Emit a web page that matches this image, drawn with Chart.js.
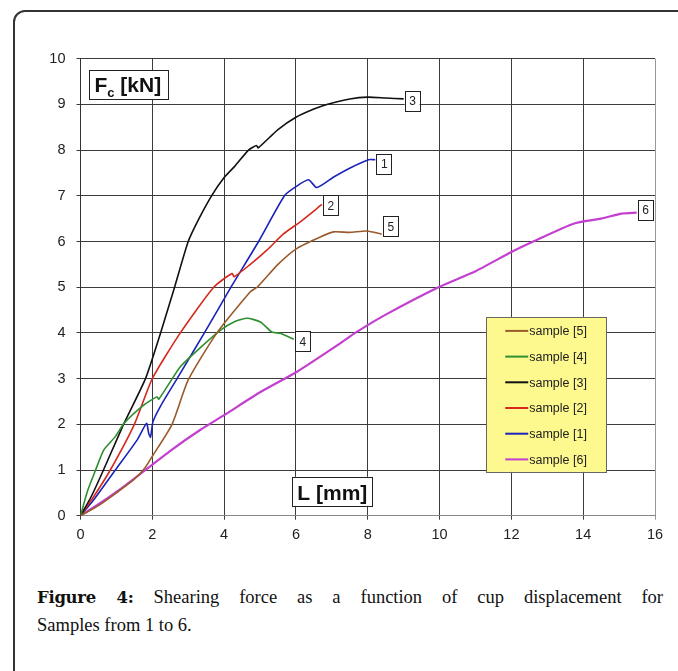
<!DOCTYPE html>
<html>
<head>
<meta charset="utf-8">
<script src="https://cdn.jsdelivr.net/npm/chart.js@4.4.1/dist/chart.umd.min.js"></script>
<style>
  html, body { margin: 0; padding: 0; background: #fff; width: 678px; height: 671px; overflow: hidden; }
  #frame { position: absolute; left: 13px; top: 10px; width: 800px; height: 800px; border: 2px solid #333; border-radius: 12px; }
  #wrap { position: absolute; left: 0; top: 0; width: 678px; height: 560px; }
  .cap { position: absolute; left: 37px; width: 626px; font-family: "Liberation Serif", serif; font-size: 18.5px; color: #111; }
  .cap b { font-family: "DejaVu Serif", serif; font-size: 16.5px; letter-spacing: -0.3px; }
  #cap1 { top: 587px; text-align: justify; text-align-last: justify; }
  #cap2 { top: 615px; }
</style>
</head>
<body>
<div id="frame"></div>
<div id="wrap"><canvas id="forceChart" width="678" height="560"></canvas></div>
<div class="cap" id="cap1"><b>Figure 4:</b> Shearing force as a function of cup displacement for</div>
<div class="cap" id="cap2">Samples from 1 to 6.</div>
<script>
// displacement L [mm] and force Fc [kN]
var s5L = [0, 0.5, 1.0, 1.5, 1.8, 2.0, 2.55, 3.0, 3.8, 4.73, 4.92, 5.5, 6.03, 6.68, 7.05, 7.5, 7.98, 8.39];
var s5F = [0, 0.22, 0.5, 0.8, 1.05, 1.3, 2.0, 2.97, 4.0, 4.9, 5.0, 5.5, 5.85, 6.1, 6.21, 6.2, 6.23, 6.16];

var s4L = [0, 0.2, 0.42, 0.65, 0.97, 1.21, 1.76, 2.13, 2.18, 2.78, 3.3, 3.9, 4.3, 4.64, 5.01, 5.33, 5.56, 5.94];
var s4F = [0, 0.55, 1.0, 1.44, 1.73, 2.02, 2.42, 2.6, 2.55, 3.26, 3.65, 4.06, 4.25, 4.32, 4.24, 4.02, 3.99, 3.86];

var s3L = [0, 0.3, 0.64, 1.2, 1.81, 2.23, 2.62, 3.0, 3.3, 3.65, 4.0, 4.3, 4.68, 4.9, 4.95, 5.5, 6.0, 6.5, 6.86, 7.5, 8.0, 8.5, 9.0];
var s3F = [0, 0.42, 1.0, 2.0, 3.0, 4.0, 5.0, 6.0, 6.5, 7.0, 7.4, 7.65, 8.0, 8.1, 8.05, 8.45, 8.72, 8.9, 9.0, 9.12, 9.16, 9.14, 9.12];

var s2L = [0, 0.37, 0.83, 1.5, 2.0, 2.78, 3.71, 4.22, 4.28, 4.73, 5.19, 5.66, 6.12, 6.72];
var s2F = [0, 0.42, 1.0, 2.0, 3.0, 4.0, 5.0, 5.3, 5.23, 5.5, 5.81, 6.17, 6.43, 6.81];

var s1L = [0, 0.37, 0.97, 1.58, 1.84, 1.9, 1.95, 2.02, 2.23, 2.69, 3.45, 4.19, 4.96, 5.68, 6.0, 6.35, 6.58, 7.05, 7.51, 8.02, 8.21];
var s1F = [0, 0.35, 1.0, 1.66, 2.02, 1.8, 1.72, 2.06, 2.4, 3.0, 4.0, 5.0, 6.0, 7.0, 7.2, 7.35, 7.18, 7.41, 7.61, 7.79, 7.79];

var s6L = [0, 0.5, 1.0, 1.81, 2.5, 3.34, 4.0, 5.0, 6.03, 7.23, 7.65, 8.5, 9.97, 11.0, 12.0, 12.61, 13.73, 14.5, 15.07, 15.49];
var s6F = [0, 0.25, 0.52, 1.0, 1.42, 1.88, 2.2, 2.7, 3.15, 3.77, 4.0, 4.4, 5.0, 5.35, 5.77, 6.0, 6.39, 6.5, 6.61, 6.63];

var seriesNames = ['sample [5]', 'sample [4]', 'sample [3]', 'sample [2]', 'sample [1]', 'sample [6]'];
var endTags = ['5', '4', '3', '2', '1', '6'];
var xTicks = [0, 2, 4, 6, 8, 10, 12, 14, 16];
var yTicks = [0, 1, 2, 3, 4, 5, 6, 7, 8, 9, 10];

(function () {
  var colors = ['#9a5a2a', '#2f8f2f', '#111111', '#d42a1e', '#1c23b8', '#c23fd0'];
  var widths = [1.6, 1.6, 1.6, 1.6, 1.6, 2.2];
  var tagDy = [-8, 2, 2, 1, 4, -3];
  var xs = [s5L, s4L, s3L, s2L, s1L, s6L];
  var ys = [s5F, s4F, s3F, s2F, s1F, s6F];

  function pts(a, b) {
    var out = [];
    for (var i = 0; i < a.length; i++) out.push({ x: a[i], y: b[i] });
    return out;
  }

  var datasets = seriesNames.map(function (name, i) {
    return {
      label: name,
      data: pts(xs[i], ys[i]),
      showLine: true,
      borderColor: colors[i],
      backgroundColor: colors[i],
      borderWidth: widths[i],
      pointRadius: 0,
      tension: 0.2,
      tag: endTags[i],
      tagDy: tagDy[i]
    };
  });

  function box(ctx, x, y, w, h) {
    ctx.fillStyle = '#fff';
    ctx.fillRect(x, y, w, h);
    ctx.strokeStyle = '#222';
    ctx.lineWidth = 1;
    ctx.strokeRect(Math.round(x) + 0.5, Math.round(y) + 0.5, w, h);
  }

  var extras = {
    id: 'extras',
    afterDatasetsDraw: function (chart) {
      var ctx = chart.ctx;
      var sx = chart.scales.x, sy = chart.scales.y;
      ctx.save();

      // end-of-curve number tags
      ctx.font = '12px "Liberation Sans", Arial, sans-serif';
      ctx.textAlign = 'center';
      ctx.textBaseline = 'middle';
      chart.data.datasets.forEach(function (ds, i) {
        var meta = chart.getDatasetMeta(i);
        var last = meta.data[meta.data.length - 1];
        var bx = last.x + 1, by = last.y + ds.tagDy - 10;
        box(ctx, bx, by, 15, 20);
        ctx.fillStyle = '#222';
        ctx.fillText(ds.tag, bx + 8, by + 11);
      });

      // axis name boxes
      var fx = sx.getPixelForValue(0.25), fy = sy.getPixelForValue(9.75);
      box(ctx, fx, fy, 79, 29);
      ctx.fillStyle = '#111';
      ctx.textAlign = 'left';
      ctx.textBaseline = 'alphabetic';
      ctx.font = 'bold 21px "Liberation Sans", Arial, sans-serif';
      ctx.fillText('F', fx + 5, fy + 22);
      var fw = ctx.measureText('F').width;
      ctx.font = 'bold 13px "Liberation Sans", Arial, sans-serif';
      ctx.fillText('c', fx + 5 + fw, fy + 27);
      var cw = ctx.measureText('c').width;
      ctx.font = 'bold 21px "Liberation Sans", Arial, sans-serif';
      ctx.fillText(' [kN]', fx + 5 + fw + cw, fy + 22);

      var lx = sx.getPixelForValue(5.9), ly = sy.getPixelForValue(0.85);
      box(ctx, lx, ly, 80, 29);
      ctx.fillStyle = '#111';
      ctx.textAlign = 'center';
      ctx.fillText('L [mm]', lx + 40, ly + 23);

      // legend
      var gx = sx.getPixelForValue(11.3), gy = sy.getPixelForValue(4.35);
      ctx.fillStyle = '#fdf98f';
      ctx.fillRect(gx, gy, 120, 155);
      ctx.strokeStyle = '#666';
      ctx.lineWidth = 1;
      ctx.strokeRect(Math.round(gx) + 0.5, Math.round(gy) + 0.5, 120, 155);
      ctx.font = '12.5px "Liberation Sans", Arial, sans-serif';
      ctx.textAlign = 'left';
      ctx.textBaseline = 'middle';
      chart.data.datasets.forEach(function (ds, i) {
        var cy = gy + 14 + i * 25.7;
        ctx.strokeStyle = ds.borderColor;
        ctx.lineWidth = 2;
        ctx.beginPath();
        ctx.moveTo(gx + 19, cy);
        ctx.lineTo(gx + 42, cy);
        ctx.stroke();
        ctx.fillStyle = '#222';
        ctx.fillText(ds.label, gx + 43, cy + 1);
      });
      ctx.restore();
    }
  };

  new Chart(document.getElementById('forceChart'), {
    type: 'scatter',
    data: { datasets: datasets },
    options: {
      responsive: false,
      animation: false,
      events: [],
      layout: { padding: { left: 0, top: 58.7, right: 23, bottom: 0 } },
      plugins: { legend: { display: false }, tooltip: { enabled: false } },
      scales: {
        x: {
          type: 'linear',
          min: 0,
          max: 16,
          afterBuildTicks: function (scale) {
            scale.ticks = xTicks.map(function (v) { return { value: v }; });
          },
          afterFit: function (scale) { scale.height = 44.3; },
          grid: {
            color: function (c) { return c.tick && c.tick.value === 16 ? '#999' : '#3c3c3c'; },
            lineWidth: 1,
            tickLength: 4
          },
          border: { color: '#888', width: 1 },
          ticks: {
            color: '#222',
            padding: 7,
            font: { family: '"Liberation Sans", Arial, sans-serif', size: 14.5 }
          }
        },
        y: {
          type: 'linear',
          min: 0,
          max: 10,
          afterBuildTicks: function (scale) {
            scale.ticks = yTicks.map(function (v) { return { value: v }; });
          },
          afterFit: function (scale) { scale.width = 80.5; },
          grid: { color: '#3c3c3c', lineWidth: 1, tickLength: 4 },
          border: { color: '#333', width: 1 },
          ticks: {
            color: '#222',
            padding: 11,
            font: { family: '"Liberation Sans", Arial, sans-serif', size: 14.5 }
          }
        }
      }
    },
    plugins: [extras]
  });
})();
</script>
</body>
</html>
